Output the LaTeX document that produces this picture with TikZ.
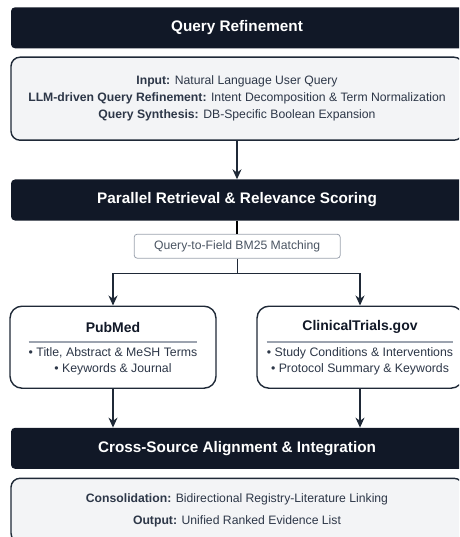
\documentclass[tikz,border=0pt]{standalone}
\usepackage{fontspec}
\setmainfont{Liberation Sans}
\usetikzlibrary{positioning,arrows.meta,calc}
\definecolor{scuro}{HTML}{111827}
\definecolor{bordo}{HTML}{1F2937}
\definecolor{grigiochiaro}{HTML}{F3F4F6}
\definecolor{grigio}{HTML}{9CA3AF}
\definecolor{testo}{HTML}{2D3748}
\definecolor{testochiaro}{HTML}{4B5563}

\begin{document}
\begin{tikzpicture}[x=1pt,y=-1pt]
% area visibile (tagliata a destra e in basso)
\path[use as bounding box,clip] (0,0) rectangle (459,537);
% definizione delle barre scure di fase
\tikzset{myheader/.style={rectangle,rounded corners=4pt,fill=scuro,text=white,font=\bfseries\fontsize{15.3}{18}\selectfont,minimum width=452pt,minimum height=41pt,inner sep=0pt}}
% definizione dei riquadri grigi
\tikzset{myinfo/.style={rectangle,rounded corners=9pt,fill=grigiochiaro,draw=bordo,line width=1.4pt,text=testo,align=center,minimum width=452pt,inner sep=0pt}}
% definizione delle fonti
\tikzset{mysource/.style={rectangle,rounded corners=12pt,fill=white,draw=bordo,line width=1.4pt,minimum width=206pt,minimum height=82pt,inner sep=0pt}}
\tikzset{mytag/.style={rectangle,rounded corners=3pt,fill=white,draw=grigio,line width=0.8pt,text=testochiaro,font=\fontsize{12.2}{14}\selectfont,minimum width=206pt,minimum height=24pt,inner sep=0pt}}
\tikzset{myarrow/.style={draw=bordo,line width=1.3pt,-{Stealth[length=10pt,width=9pt]}}}

%----
% fase 1: raffinamento della query
\node[myheader] (refhead) at (237,27.8) {Query Refinement};
\node[myinfo,minimum height=83pt,font=\fontsize{12.2}{17}\selectfont] (refbox) at (237,98.7)
  {\textbf{Input:} Natural Language User Query\\
   \textbf{LLM-driven Query Refinement:} Intent Decomposition \& Term Normalization\\
   \textbf{Query Synthesis:} DB-Specific Boolean Expansion};

% fase 2: recupero parallelo
\node[myheader] (rethead) at (237,200) {Parallel Retrieval \& Relevance Scoring};
\node[mytag] (bm25) at (237.2,246.2) {Query-to-Field BM25 Matching};
\draw[myarrow] (refbox) -- (rethead);
\draw[black,line width=2.5pt] (rethead.south) -- (rethead.south |- bm25.north);

% inserimento fonti
\node[mysource] (pubmed) at (113,347.2) {};
\node[mysource] (ctgov) at (360,347.2) {};
\foreach \n/\t/\a/\b in {pubmed/PubMed/{Title, Abstract \& MeSH Terms}/{Keywords \& Journal},
                         ctgov/ClinicalTrials.gov/{Study Conditions \& Interventions}/{Protocol Summary \& Keywords}}
{
  \node[font=\bfseries\fontsize{14}{16}\selectfont,text=scuro] (\n-tit) at ($(\n.north)+(0,21.5)$) {\t};
  \node[font=\fontsize{12.3}{16}\selectfont,text=testo,align=center,inner sep=0pt] (\n-txt) at ($(\n.north)+(0,56)$)
    {\textbullet{} \a\\ \textbullet{} \b};
  \draw[grigio,line width=1.6pt] (\n-txt.west |- 0,341.7) -- (\n-txt.east |- 0,341.7);
}

% diramazione verso le fonti
\coordinate[below=15pt of bm25.south] (split);
\draw[bordo,line width=1.3pt] (bm25.south) -- (split);
\foreach \n in {pubmed,ctgov}
  \draw[myarrow] (split) -| (\n);

% fase 3: allineamento e integrazione
\node[myheader] (inthead) at (237,448.3) {Cross-Source Alignment \& Integration};
\foreach \n in {pubmed,ctgov}
  \draw[myarrow] (\n) -- (\n |- inthead.north);
\node[myinfo,minimum height=64pt,font=\fontsize{12.2}{21.5}\selectfont] (outbox) at (237,510.3)
  {\textbf{Consolidation:} Bidirectional Registry-Literature Linking\\
   \textbf{Output:} Unified Ranked Evidence List};
\end{tikzpicture}
\end{document}
